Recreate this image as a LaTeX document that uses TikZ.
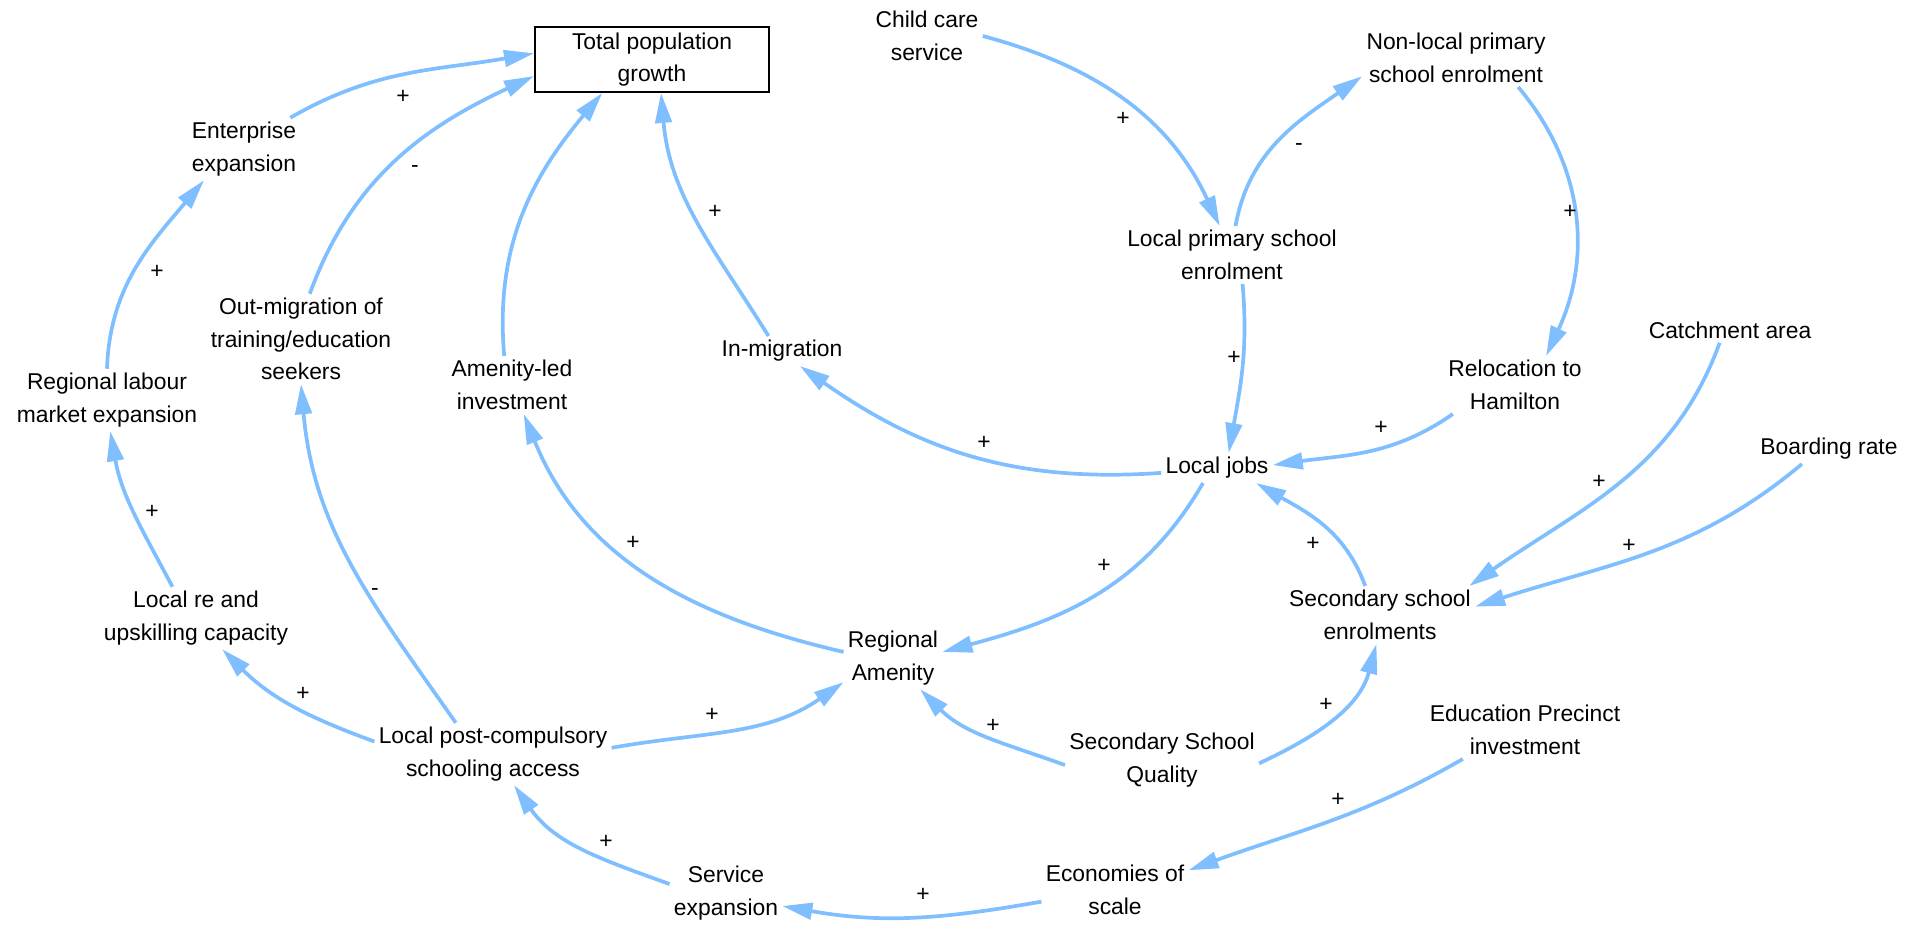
\documentclass[tikz,border=0pt]{standalone}
\usepackage{fontspec}
\setmainfont{Liberation Sans}
\usepackage{xcolor}
\usetikzlibrary{arrows.meta}

\definecolor{linkblue}{RGB}{128,191,255}

\tikzset{
  var/.style={align=center, inner sep=0.08cm, font=\fontsize{13pt}{18.5pt}\selectfont},
  stock/.style={var, draw, line width=0.04cm, minimum width=4.68cm, minimum height=1.3cm},
  sign/.style={inner sep=0pt, font=\fontsize{13pt}{18.5pt}\selectfont},
  link/.style={draw=linkblue, line width=0.074cm, -{Triangle[length=0.6cm,width=0.33cm]}}
}

\begin{document}
\begin{tikzpicture}[x=0.02cm, y=0.02cm]
    \useasboundingbox (0,0) rectangle (1918,-925);

    % Variables
    \node[stock] (tpg) at (652,-59.5) {Total population\\growth};
    \node[var] (child) at (927,-36) {Child care\\service};
    \node[var] (nonlocal) at (1456,-58) {Non-local primary\\school enrolment};
    \node[var] (localprim) at (1232,-255) {Local primary school\\enrolment};
    \node[var] (reloc) at (1515,-385) {Relocation to\\Hamilton};
    \node[var] (catch) at (1730,-330) {Catchment area};
    \node[var] (board) at (1829,-449) {Boarding rate};
    \node[var] (jobs) at (1217,-468) {Local jobs};
    \node[var] (secenr) at (1380,-615) {Secondary school\\enrolments};
    \node[var] (amen) at (893,-658) {Regional\\Amenity};
    \node[var] (ssq) at (1162,-760) {Secondary School\\Quality};
    \node[var] (edu) at (1525,-730) {Education Precinct\\investment};
    \node[var] (econ) at (1115,-890) {Economies of\\scale};
    \node[var] (serv) at (726,-893) {Service\\expansion};
    \node[var] (postc) at (493,-754) {Local post-compulsory\\schooling access};
    \node[var] (reup) at (196,-618) {Local re and\\upskilling capacity};
    \node[var] (rlme) at (107,-400) {Regional labour\\market expansion};
    \node[var] (outm) at (301,-339) {Out-migration of\\training/education\\seekers};
    \node[var] (amled) at (512,-385) {Amenity-led\\investment};
    \node[var] (inmig) at (782,-351) {In-migration};
    \node[var] (ent) at (244,-149) {Enterprise\\expansion};

    % Causal links: from/to/out/in
    \foreach \a/\b/\o/\i in {
        ent.34/tpg.177/30/190, outm.79/tpg.188/70/205,
        amled.105/tpg.214/95/230, inmig.132/tpg.285/122/275,
        rlme.90/ent.218/88/230, reup.127/rlme.276/118/280,
        postc.174/reup.310/160/-45, postc.140/outm.270/125/275,
        amen.173/amled.292/167/-68, postc.3/amen.206/10/215,
        serv.171/postc.304/160/-55, econ.189/serv.347/190/-10,
        edu.205/econ.15/210/20, ssq.183/amen.311/160/-45,
        ssq.358/secenr.263/25/255, secenr.117/jobs.339/110/-30,
        jobs.227/amen.7/240/15, catch.231/secenr.18/250/35,
        board.209/secenr.5/220/18, jobs.185/inmig.320/184/-35,
        reloc.205/jobs.3/215/8, localprim.290/jobs.52/-85/80,
        localprim.83/nonlocal.191/80/215, nonlocal.335/reloc.43/-50/65,
        child.0/localprim.113/-15/115}
      \draw[link] (\a) to[out=\o,in=\i] (\b);

    % Polarities
    \foreach \sx/\sy/\sg [count=\k] in {
        403/97/+, 415/169/-, 715/212/+, 157/272/+, 152/512/+,
        303/694/+, 375/592/-, 633/543/+, 712/715/+, 606/842/+,
        923/895/+, 1338/800/+, 993/726/+, 1326/705/+, 1313/544/+,
        1104/566/+, 1599/482/+, 1629/546/+, 984/443/+, 1381/428/+,
        1234/358/+, 1299/147/-, 1570/212/+, 1123/119/+}
      \node[sign] (sign\k) at (\sx,-\sy) {\sg};
\end{tikzpicture}
\end{document}
